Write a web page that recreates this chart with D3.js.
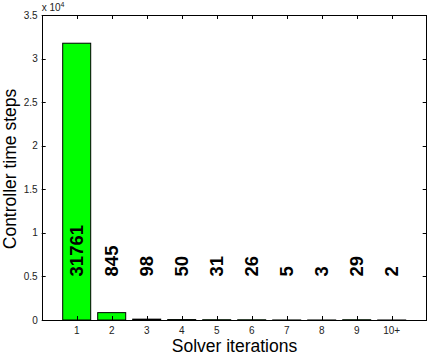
<!DOCTYPE html>
<html><head><meta charset="utf-8">
<script src="https://cdn.jsdelivr.net/npm/d3@7"></script>
<style>body{margin:0;background:#fff}svg{display:block}text{font-family:"Liberation Sans",Arial,Helvetica,sans-serif}</style>
</head><body>
<script>
const categories = ["1","2","3","4","5","6","7","8","9","10+"];
const counts = [31761, 845, 98, 50, 31, 26, 5, 3, 29, 2];
const yTicks = [0, 0.5, 1, 1.5, 2, 2.5, 3, 3.5];
const yScaleFactor = 1e4;

const W = 428, H = 354;
const m = {l: 41.7, r: 1.3, t: 15, b: 34};
const svg = d3.select("body").append("svg").attr("width", W).attr("height", H);
const x = d3.scaleLinear().domain([0, 11]).range([m.l, W - m.r]);
const y = d3.scaleLinear().domain([0, 3.5 * yScaleFactor]).range([H - m.b, m.t]);
const step = x(1) - x(0);
const bw = step * 0.8;
const x0 = m.l, x1 = W - m.r, y0 = H - m.b, y1 = m.t;

// bars
svg.append("g").selectAll("rect").data(counts).join("rect")
  .attr("x", (d, i) => x(i + 1) - bw / 2)
  .attr("y", d => y(d))
  .attr("width", bw)
  .attr("height", d => y(0) - y(d))
  .attr("fill", "#00ff00")
  .attr("stroke", "#000")
  .attr("stroke-width", 1);

// ticks (inward, mirrored)
const tl = 4;
const g = svg.append("g").attr("stroke", "#000").attr("stroke-width", 1);
categories.forEach((c, i) => {
  const xx = Math.round(x(i + 1)) + 0.5;
  g.append("line").attr("x1", xx).attr("x2", xx).attr("y1", y0).attr("y2", y0 - tl);
  g.append("line").attr("x1", xx).attr("x2", xx).attr("y1", y1).attr("y2", y1 + tl);
});
yTicks.forEach(t => {
  const yy = Math.round(y(t * yScaleFactor)) + 0.5;
  g.append("line").attr("x1", x0).attr("x2", x0 + tl).attr("y1", yy).attr("y2", yy);
  g.append("line").attr("x1", x1).attr("x2", x1 - tl).attr("y1", yy).attr("y2", yy);
});
// box
svg.append("rect").attr("x", Math.round(x0) + 0.5).attr("y", y1 + 0.5)
  .attr("width", Math.round(x1) - Math.round(x0) - 1).attr("height", y0 - y1)
  .attr("fill", "none").attr("stroke", "#000").attr("stroke-width", 1);

// tick labels
svg.append("g").selectAll("text").data(categories).join("text")
  .attr("x", (d, i) => x(i + 1)).attr("y", y0 + 13.5)
  .attr("text-anchor", "middle").attr("font-size", 10).attr("fill", "#222")
  .text(d => d);
svg.append("g").selectAll("text").data(yTicks).join("text")
  .attr("x", x0 - 4).attr("y", d => y(d * yScaleFactor) + 3.5)
  .attr("text-anchor", "end").attr("font-size", 10).attr("fill", "#222")
  .text(d => d);
// exponent
const ex = svg.append("text").attr("x", x0).attr("y", 11).attr("font-size", 10).attr("fill", "#222");
ex.append("tspan").text("x 10");
ex.append("tspan").attr("font-size", 7).attr("dy", -4).text("4");

// value labels
svg.append("g").selectAll("text").data(counts).join("text")
  .attr("transform", (d, i) => `translate(${x(i + 1)},${y(5000)}) rotate(-90)`)
  .attr("dy", "0.36em")
  .attr("font-size", 18.5).attr("font-weight", "bold").attr("fill", "#000")
  .text(d => d);

// axis titles
svg.append("text").attr("x", 234.5).attr("y", 351.5)
  .attr("text-anchor", "middle").attr("font-size", 17.5).text("Solver iterations");
svg.append("text").attr("transform", `translate(15.5,169) rotate(-90)`)
  .attr("text-anchor", "middle").attr("font-size", 17.5).text("Controller time steps");
</script>
</body></html>
